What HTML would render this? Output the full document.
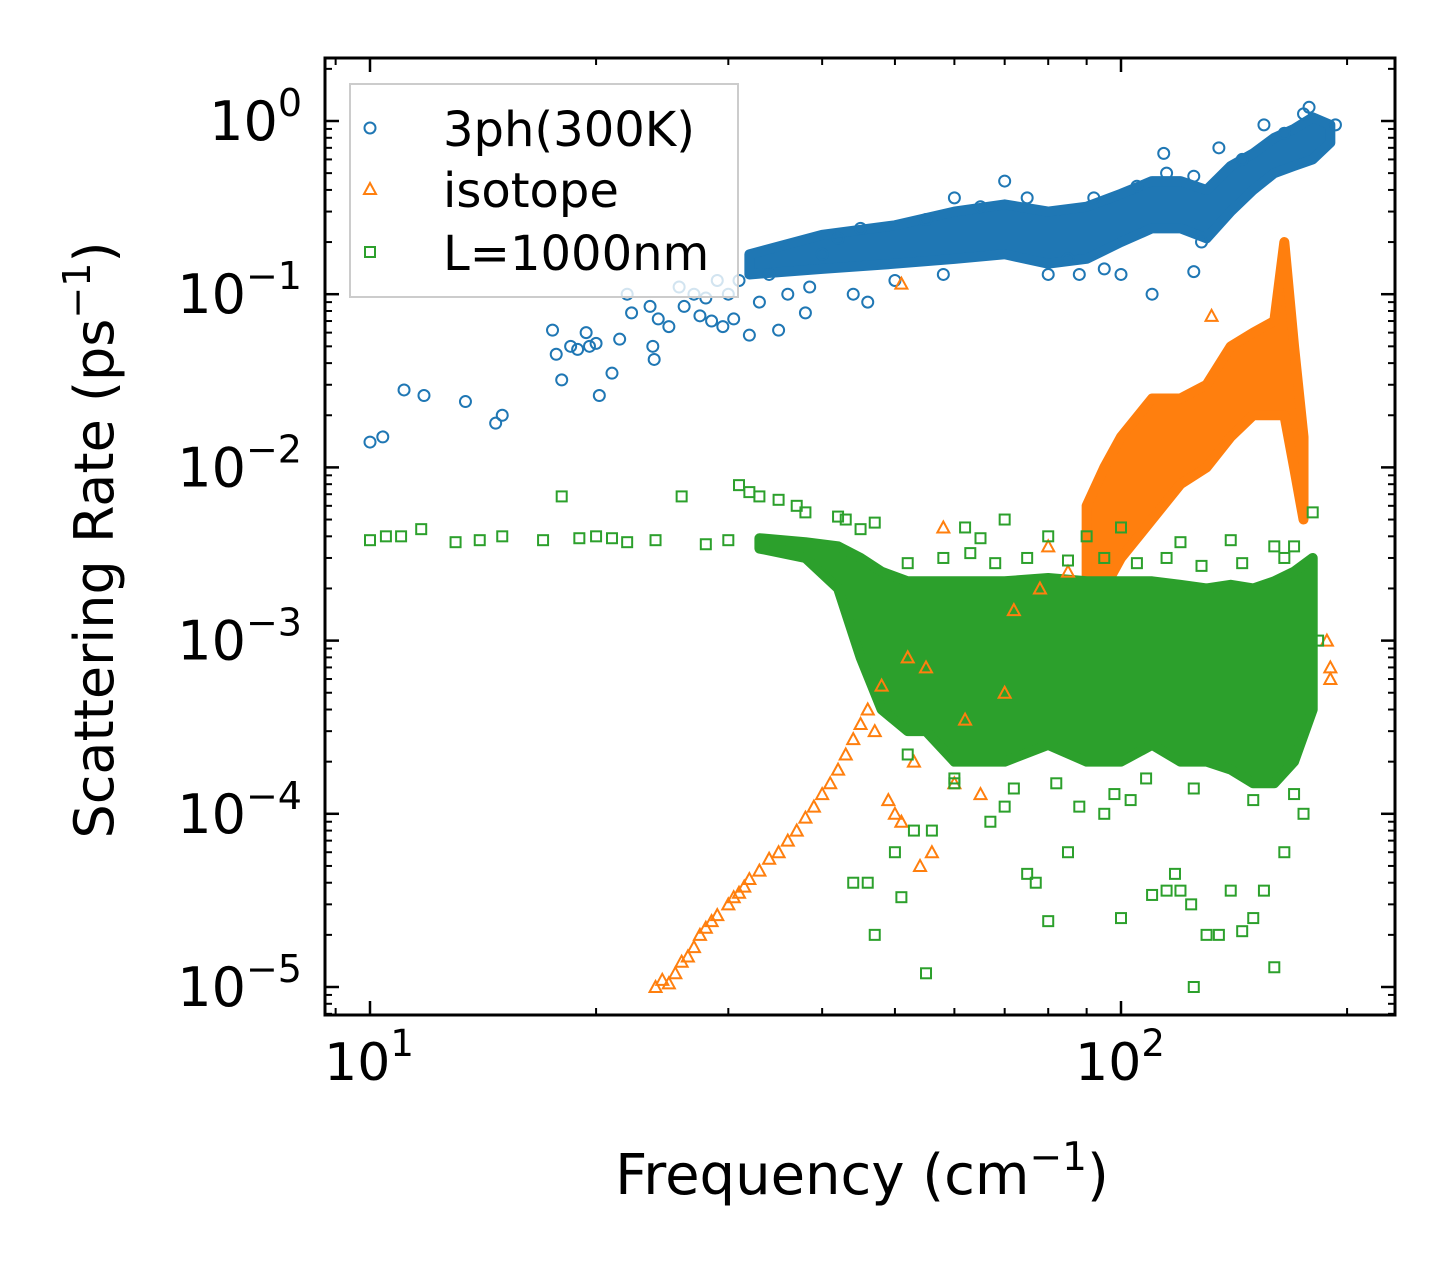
<!DOCTYPE html>
<html><head><meta charset="utf-8">
<style>
html,body{margin:0;padding:0;background:#fff;}
svg{display:block;font-family:"DejaVu Sans","Liberation Sans",sans-serif;}
</style></head>
<body>
<svg id="chart" width="1455" height="1265" viewBox="0 0 1455 1265" xmlns="http://www.w3.org/2000/svg">
<rect width="1455" height="1265" fill="#fff"/>
<g id="bands"></g>
<g id="pts"></g>
<g id="axes"></g>
<g id="legend">
<rect x="350" y="84" width="388" height="213" fill="#fff" fill-opacity="0.8" stroke="#ccc" stroke-width="2"/>
<circle cx="370" cy="128" r="5.5" fill="none" stroke="#1f77b4" stroke-width="2"/>
<text x="443" y="146" font-size="48">3ph(300K)</text>
<path d="M370,183 L376,194 L364,194 Z" fill="none" stroke="#ff7f0e" stroke-width="2"/>
<text x="443" y="207" font-size="48">isotope</text>
<rect x="365" y="247" width="10" height="10" fill="none" stroke="#2ca02c" stroke-width="2"/>
<text x="443" y="270" font-size="48">L=1000nm</text>
</g>
</svg>
<script>
// ---- data ----
const blueBandX  = [32,40,50,60,70,80,90,100,110,120,130,140,150,160,170,180,190];
const blueBandLo = [0.13,0.14,0.15,0.16,0.17,0.15,0.16,0.2,0.24,0.24,0.21,0.3,0.4,0.5,0.55,0.6,0.75];
const blueBandHi = [0.17,0.22,0.25,0.3,0.33,0.3,0.32,0.38,0.45,0.45,0.4,0.55,0.65,0.8,0.9,1.05,0.95];
const orangeBandX  = [90,95,100,110,120,130,140,150,160,165,170,175];
const orangeBandLo = [0.002,0.002,0.003,0.005,0.008,0.01,0.015,0.02,0.02,0.02,0.01,0.005];
const orangeBandHi = [0.006,0.01,0.015,0.025,0.025,0.03,0.05,0.06,0.07,0.2,0.05,0.015];
const greenBandX  = [33,38,42,45,48,52,55,60,70,80,90,100,110,120,130,140,150,160,170,180];
const greenBandLo = [0.0034,0.003,0.002,0.0008,0.0004,0.0003,0.0003,0.0002,0.0002,0.00025,0.0002,0.0002,0.00025,0.0002,0.0002,0.00018,0.00015,0.00015,0.0002,0.0004];
const greenBandHi = [0.0039,0.0037,0.0035,0.003,0.0025,0.0022,0.0022,0.0022,0.0022,0.0023,0.0022,0.0022,0.0022,0.0021,0.002,0.0021,0.002,0.0022,0.0025,0.003];
const bluePts = [[10,0.014],[10.4,0.015],[11.1,0.028],[11.8,0.026],[13.4,0.024],[14.7,0.018],[15,0.02],[17.5,0.062],[17.7,0.045],[18,0.032],[18.5,0.05],[18.9,0.048],[19.4,0.06],[19.6,0.05],[20.2,0.026],[20,0.052],[21,0.035],[21.5,0.055],[22,0.1],[22.3,0.078],[23.6,0.085],[23.8,0.05],[23.9,0.042],[24.2,0.072],[25,0.065],[25.8,0.11],[26.2,0.085],[27,0.1],[27.5,0.075],[28,0.095],[28.5,0.07],[29,0.12],[29.5,0.065],[30,0.1],[30.5,0.072],[31,0.12],[32,0.058],[33,0.09],[34,0.13],[35,0.062],[36,0.1],[38,0.078],[38.5,0.11],[40,0.17],[44,0.1],[46,0.09],[50,0.12],[60,0.36],[70,0.45],[85,0.16],[95,0.14],[100,0.13],[110,0.1],[114,0.65],[125,0.135],[135,0.7],[155,0.95],[178,1.2],[193,0.95],[42,0.21],[45,0.24],[55,0.27],[58,0.13],[65,0.32],[75,0.36],[80,0.13],[88,0.13],[92,0.36],[105,0.42],[115,0.5],[125,0.48],[128,0.2],[145,0.6],[165,0.85],[175,1.1]];
const orangePts = [[24,0.00001],[24.5,0.000011],[25,0.0000105],[25.5,0.000012],[26,0.000014],[26.5,0.000015],[27,0.000017],[27.5,0.00002],[28,0.000022],[28.5,0.000024],[29,0.000026],[30,0.00003],[30.5,0.000033],[31,0.000035],[31.5,0.000038],[32,0.000042],[33,0.000047],[34,0.000055],[35,0.00006],[36,0.00007],[37,0.00008],[38,0.000095],[39,0.00011],[40,0.00013],[41,0.00015],[42,0.00018],[43,0.00022],[44,0.00027],[45,0.00033],[46,0.0004],[47,0.0003],[48,0.00055],[49,0.00012],[50,0.0001],[51,0.00009],[52,0.0008],[53,0.0002],[54,0.00005],[55,0.0007],[56,0.00006],[58,0.0045],[60,0.00015],[62,0.00035],[65,0.00013],[70,0.0005],[72,0.0015],[78,0.002],[80,0.0035],[85,0.0025],[51,0.115],[132,0.075],[190,0.0007],[190,0.0006],[188,0.001]];
const greenPts = [[10,0.0038],[10.5,0.004],[11,0.004],[11.7,0.0044],[13,0.0037],[14,0.0038],[15,0.004],[17,0.0038],[18,0.0068],[19,0.0039],[20,0.004],[21,0.0039],[22,0.0037],[24,0.0038],[26,0.0068],[28,0.0036],[30,0.0038],[31,0.0079],[32,0.0072],[33,0.0068],[35,0.0065],[37,0.006],[38,0.0055],[42,0.0052],[43,0.005],[45,0.0044],[47,0.0048],[46,0.00004],[44,0.00004],[50,0.00006],[51,0.000033],[53,0.00008],[55,0.000012],[56,0.00008],[47,0.00002],[58,0.0004],[60,0.00015],[62,0.0045],[65,0.0039],[67,0.00009],[70,0.00011],[75,0.000045],[77,0.00004],[80,0.000024],[85,0.00006],[88,0.00011],[95,0.0001],[100,0.000025],[103,0.00012],[110,0.000034],[115,0.000036],[118,0.000045],[120,0.000036],[124,0.00003],[125,0.00001],[130,0.00002],[135,0.00002],[140,0.000036],[145,0.000021],[150,0.000025],[155,0.000036],[160,0.000013],[165,0.00006],[170,0.0035],[175,0.0001],[180,0.0055],[183,0.001],[120,0.0037],[100,0.0045],[90,0.004],[80,0.004],[70,0.005],[140,0.0038],[160,0.0035],[52,0.0028],[58,0.003],[63,0.0032],[68,0.0028],[75,0.003],[85,0.0029],[95,0.003],[105,0.0028],[115,0.003],[128,0.0027],[145,0.0028],[165,0.003],[52,0.00022],[60,0.00016],[72,0.00014],[82,0.00015],[98,0.00013],[108,0.00016],[125,0.00014],[150,0.00012],[170,0.00013]];
const yTickExp = [0,-1,-2,-3,-4,-5];
const xTickExp = [1,2];

// ---- scales ----
const X0=370, XD=751, Y0=121, YD=173.2;
const PL=325, PR=1395, PT=58, PB=1015;
const sx = v => X0 + (Math.log10(v)-1)*XD;
const sy = v => Y0 - Math.log10(v)*YD;
const NS='http://www.w3.org/2000/svg';
function mk(tag, attrs, parent){const e=document.createElementNS(NS,tag);for(const k in attrs)e.setAttribute(k,attrs[k]);parent.appendChild(e);return e;}

const bands=document.getElementById('bands');
function band(xs,lo,hi,color,name){
  let d='M'+xs.map((x,i)=>sx(x)+','+sy(hi[i])).join(' L');
  for(let i=xs.length-1;i>=0;i--) d+=' L'+sx(xs[i])+','+sy(lo[i]);
  d+=' Z';
  const p=mk('path',{d:d,fill:color,stroke:color,'stroke-width':10,'stroke-linejoin':'round'},bands);
  
  
}
const pts=document.getElementById('pts');
band(blueBandX,blueBandLo,blueBandHi,'#1f77b4','3ph-dense-band');
band(orangeBandX,orangeBandLo,orangeBandHi,'#ff7f0e','isotope-dense-band');
bluePts.forEach(p=>{
  const c=mk('circle',{cx:sx(p[0]),cy:sy(p[1]),r:5.5,fill:'none',stroke:'#1f77b4','stroke-width':2},pts);
  
  
});
orangePts.forEach(p=>{
  const x=sx(p[0]),y=sy(p[1]);
  const t=mk('path',{d:`M${x},${y-6} L${x+6},${y+5} L${x-6},${y+5} Z`,fill:'none',stroke:'#ff7f0e','stroke-width':2},pts);
  
  
});
band(greenBandX,greenBandLo,greenBandHi,'#2ca02c','boundary-dense-band');
greenPts.forEach(p=>{
  const r=mk('rect',{x:sx(p[0])-5,y:sy(p[1])-5,width:10,height:10,fill:'none',stroke:'#2ca02c','stroke-width':2},pts);
  
  
});

// ---- axes ----
const ax=document.getElementById('axes');
const frame=mk('rect',{x:PL,y:PT,width:PR-PL,height:PB-PT,fill:'none',stroke:'#000','stroke-width':3},ax);


function line(x1,y1,x2,y2,w){mk('line',{x1,y1,x2,y2,stroke:'#000','stroke-width':w},ax);}
for(let e=1;e>=-6;e--){
  for(let m=1;m<10;m++){
    const v=m*Math.pow(10,e), y=sy(v);
    if(y<PT+1||y>PB-1) continue;
    const L=m===1?14:7, w=m===1?2.5:2;
    line(PL,y,PL+L,y,w); line(PR,y,PR-L,y,w);
  }
}
yTickExp.forEach(e=>{
  const t=mk('text',{x:302,y:sy(Math.pow(10,e))+19,'font-size':54,'text-anchor':'end'},ax);
  
  
  t.innerHTML='10<tspan dy="-24" font-size="38">'+(e<0?'\u2212'+(-e):e)+'</tspan>';
});
for(let e=0;e<=2;e++){
  for(let m=1;m<10;m++){
    const v=m*Math.pow(10,e), x=sx(v);
    if(x<PL+1||x>PR-1) continue;
    const L=m===1?14:7, w=m===1?2.5:2;
    line(x,PB,x,PB-L,w); line(x,PT,x,PT+L,w);
  }
}
xTickExp.forEach(e=>{
  const t=mk('text',{x:sx(Math.pow(10,e))-1,y:1080,'font-size':52,'text-anchor':'middle'},ax);
  
  
  t.innerHTML='10<tspan dy="-24" font-size="37">'+e+'</tspan>';
});
const xt=mk('text',{x:862,y:1194,'font-size':56,'text-anchor':'middle'},ax);


xt.innerHTML='Frequency (cm<tspan dy="-24" font-size="39">\u22121</tspan><tspan dy="24">)</tspan>';
const yt=mk('text',{x:0,y:0,'font-size':54,'text-anchor':'middle',transform:'translate(113,540) rotate(-90)'},ax);


yt.innerHTML='Scattering Rate (ps<tspan dy="-23" font-size="38">\u22121</tspan><tspan dy="23">)</tspan>';
</script>
</body></html>
